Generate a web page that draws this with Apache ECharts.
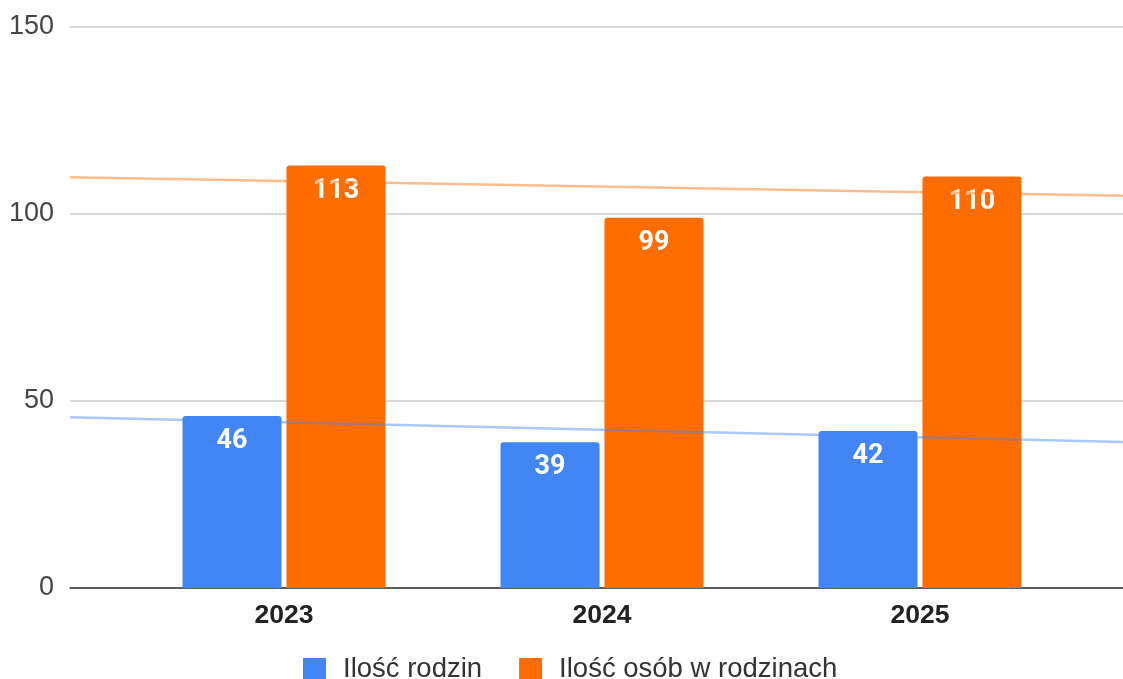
<!DOCTYPE html>
<html>
<head>
<meta charset="utf-8">
<script src="https://cdn.jsdelivr.net/npm/echarts@6/dist/echarts.min.js"></script>
<style>html,body{margin:0;padding:0;background:#fff}#c{width:1123px;height:679px}</style>
</head>
<body>
<div id="c"></div>
<script>
var categories = ['2023', '2024', '2025'];
var families = [46, 39, 42];
var persons = [113, 99, 110];
var seriesNames = ['Ilość rodzin', 'Ilość osób w rodzinach'];
var yTicks = [0, 50, 100, 150];

function trend(vals, xmin, xmax) {
  var n = vals.length, sx = 0, sy = 0, sxx = 0, sxy = 0;
  for (var i = 0; i < n; i++) { sx += i; sy += vals[i]; sxx += i * i; sxy += i * vals[i]; }
  var b = (n * sxy - sx * sy) / (n * sxx - sx * sx);
  var a = (sy - b * sx) / n;
  return [[xmin, a + b * xmin], [xmax, a + b * xmax]];
}
var XMIN = -0.673, XMAX = 2.638;

var chart = echarts.init(document.getElementById('c'));
var lbl = { show: true, position: 'insideTop', distance: 12, color: '#fff', fontSize: 27, fontWeight: 'bold', fontFamily: 'Roboto' };
chart.setOption({
  animation: false,
  grid: [
    { left: 70, right: 0, top: 27, bottom: 91 },
    { left: 125, right: 44, top: 27, bottom: 91 }
  ],
  xAxis: [
    { type: 'value', gridIndex: 0, min: XMIN, max: XMAX, axisLabel: { show: false }, axisTick: { show: false }, splitLine: { show: false }, axisLine: { show: true, onZero: false, lineStyle: { color: '#333', width: 1.5 } } },
    { type: 'category', gridIndex: 1, data: categories, axisTick: { show: false }, axisLine: { show: false }, axisLabel: { color: '#222', fontSize: 26.5, fontWeight: 'bold', fontFamily: 'Liberation Sans', margin: 14 } }
  ],
  yAxis: [
    { type: 'value', gridIndex: 0, min: 0, max: 150, interval: 50, axisLine: { show: false }, axisTick: { show: false }, axisLabel: { color: '#444', fontSize: 27, fontFamily: 'Liberation Sans', margin: 16 }, splitLine: { lineStyle: { color: '#ccc', width: 1.5 } } },
    { type: 'value', gridIndex: 1, min: 0, max: 150, interval: 50, show: false }
  ],
  legend: {
    top: 655, left: 303, icon: 'rect', itemWidth: 23, itemHeight: 22, itemGap: 37, padding: 0,
    data: seriesNames,
    textStyle: { color: '#333', fontSize: 27.5, fontFamily: 'Liberation Sans', padding: [4, 0, 0, 12] }
  },
  series: [
    { name: seriesNames[0], type: 'bar', xAxisIndex: 1, yAxisIndex: 1, data: families, barWidth: 99, barGap: '5%', itemStyle: { color: '#4285f4', borderRadius: [3, 3, 0, 0] }, label: lbl, z: 2 },
    { name: seriesNames[1], type: 'bar', xAxisIndex: 1, yAxisIndex: 1, data: persons, barWidth: 99, barGap: '5%', itemStyle: { color: '#ff6d01', borderRadius: [3, 3, 0, 0] }, label: lbl, z: 2 },
    { name: 't1', type: 'line', xAxisIndex: 0, yAxisIndex: 0, data: trend(families, XMIN, XMAX), symbol: 'none', lineStyle: { color: 'rgba(66,133,244,0.45)', width: 2.5 }, z: 5, silent: true },
    { name: 't2', type: 'line', xAxisIndex: 0, yAxisIndex: 0, data: trend(persons, XMIN, XMAX), symbol: 'none', lineStyle: { color: 'rgba(255,109,1,0.45)', width: 2.5 }, z: 5, silent: true }
  ]
});
</script>
</body>
</html>
